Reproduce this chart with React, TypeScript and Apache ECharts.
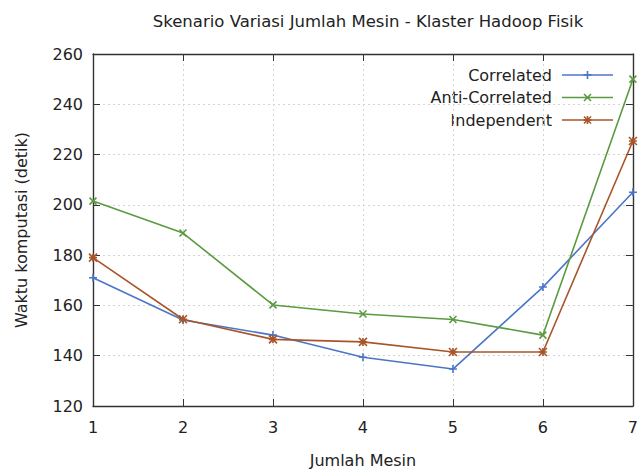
import React, { useEffect, useRef } from "react";
import * as echarts from "echarts";

const machines = [1, 2, 3, 4, 5, 6, 7];
const correlated = [171, 154.2, 148.2, 139.4, 134.7, 167.3, 205];
const antiCorrelated = [201.5, 188.8, 160.2, 156.6, 154.4, 148.2, 250];
const independent = [179, 154.5, 146.5, 145.5, 141.5, 141.5, 225.4];
const yTicks = [120, 140, 160, 180, 200, 220, 240, 260];
const seriesNames = ["Correlated", "Anti-Correlated", "Independent"];
const seriesColors = ["#4b76c8", "#5a9a40", "#a9552a"];

const FONT = "DejaVu Sans";
const PLUS = "path://M0,5L10,5M5,0L5,10";
const CROSS = "path://M0,0L10,10M0,10L10,0";
const STAR = "path://M0,0L10,10M0,10L10,0M0,5L10,5M5,0L5,10";

function pairs(ys: number[]) {
  return machines.map((x, i) => [x, ys[i]]);
}

// marker strokes for the legend keys: [dx1, dy1, dx2, dy2] relative to centre
const PLUS_SEGS = [[-4, 0, 4, 0], [0, -4, 0, 4]];
const CROSS_SEGS = [[-3.5, -3.5, 3.5, 3.5], [-3.5, 3.5, 3.5, -3.5]];
const STAR_SEGS = [...CROSS_SEGS, [-4, 0, 4, 0], [0, -4, 0, 4]];

export default function App() {
  const ref = useRef<HTMLDivElement>(null);
  useEffect(() => {
    if (!ref.current) return;
    const chart = echarts.init(ref.current, null, { renderer: "svg" });
    const mkSeries = (name: string, ys: number[], color: string, symbol: string, size: number) => ({
      name,
      type: "line",
      data: pairs(ys),
      symbol,
      symbolSize: size,
      showSymbol: true,
      lineStyle: { color, width: 1.6 },
      itemStyle: { color, borderColor: color, borderWidth: 1.6 },
      emphasis: { disabled: true },
    });
    const legSegs = [PLUS_SEGS, CROSS_SEGS, STAR_SEGS];
    const legendGraphics: any[] = [];
    seriesNames.forEach((name, i) => {
      const cy = 75 + 22.5 * i;
      const color = seriesColors[i];
      legendGraphics.push({
        type: "text",
        x: 552,
        y: cy,
        style: { text: name, align: "right", verticalAlign: "middle", font: `16px "${FONT}"`, fill: "#222" },
        silent: true,
      });
      legendGraphics.push({
        type: "line",
        shape: { x1: 562, y1: cy, x2: 613, y2: cy },
        style: { stroke: color, lineWidth: 1.6 },
        silent: true,
      });
      legSegs[i].forEach((s) => {
        legendGraphics.push({
          type: "line",
          shape: { x1: 587.5 + s[0], y1: cy + s[1], x2: 587.5 + s[2], y2: cy + s[3] },
          style: { stroke: color, lineWidth: 1.6 },
          silent: true,
        });
      });
    });
    const axisLine = { show: true, lineStyle: { color: "#333", width: 1.4 } };
    const splitLine = { show: true, lineStyle: { color: "#d4d4d4", type: [2, 3], width: 1 } };
    const tick = { show: true, inside: true, length: 7, lineStyle: { color: "#333" } };
    const labelStyle = { fontFamily: FONT, fontSize: 16, color: "#222" };
    chart.setOption({
      animation: false,
      backgroundColor: "#fff",
      title: {
        text: "Skenario Variasi Jumlah Mesin - Klaster Hadoop Fisik",
        left: 363,
        textAlign: "center",
        top: 8,
        textStyle: { fontFamily: FONT, fontSize: 16.5, fontWeight: "normal", color: "#222" },
      },
      graphic: legendGraphics,
      grid: { left: 93, right: 7, top: 54, bottom: 69, show: false },
      xAxis: [
        {
          type: "value",
          min: 1,
          max: 7,
          interval: 1,
          name: "Jumlah Mesin",
          nameLocation: "middle",
          nameGap: 46,
          nameTextStyle: labelStyle,
          axisLine,
          axisTick: tick,
          axisLabel: { ...labelStyle, margin: 13 },
          splitLine,
        },
        {
          type: "value",
          position: "top",
          min: 1,
          max: 7,
          interval: 1,
          axisLine,
          axisTick: tick,
          axisLabel: { show: false },
          splitLine: { show: false },
        },
      ],
      yAxis: [
        {
          type: "value",
          min: yTicks[0],
          max: yTicks[yTicks.length - 1],
          interval: 20,
          name: "Waktu komputasi (detik)",
          nameLocation: "middle",
          nameGap: 64,
          nameTextStyle: labelStyle,
          axisLine,
          axisTick: tick,
          axisLabel: { ...labelStyle, margin: 10 },
          splitLine,
        },
        {
          type: "value",
          position: "right",
          min: yTicks[0],
          max: yTicks[yTicks.length - 1],
          interval: 20,
          axisLine,
          axisTick: tick,
          axisLabel: { show: false },
          splitLine: { show: false },
        },
      ],
      series: [
        mkSeries(seriesNames[0], correlated, seriesColors[0], PLUS, 8),
        mkSeries(seriesNames[1], antiCorrelated, seriesColors[1], CROSS, 7),
        mkSeries(seriesNames[2], independent, seriesColors[2], STAR, 8),
      ],
    });
    return () => chart.dispose();
  }, []);
  return <div ref={ref} style={{ width: 641, height: 475, position: "absolute", left: 0, top: 0 }} />;
}
